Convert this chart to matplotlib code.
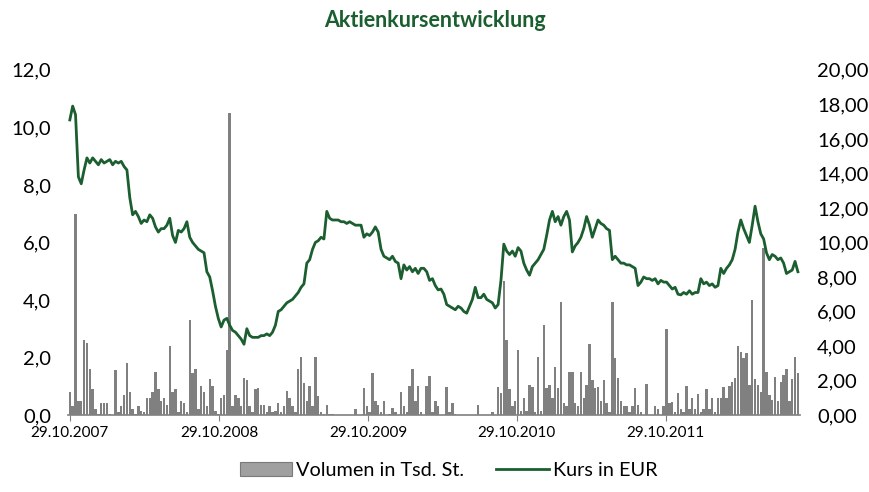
import matplotlib
matplotlib.use("Agg")
import matplotlib.pyplot as plt
import matplotlib.dates as mdates
from matplotlib.ticker import FuncFormatter, MultipleLocator
from matplotlib.patches import Patch
from matplotlib.lines import Line2D
import pandas as pd

# Wochenwerte ab 29.10.2007
start = "2007-10-29"

kurs = [
    17.1, 17.9, 17.4, 13.8, 13.4, 14.2, 14.9, 14.6, 14.9, 14.7,
    14.5, 14.8, 14.6, 14.7, 14.8, 14.5, 14.7, 14.6, 14.7, 14.4,
    14.2, 12.6, 11.6, 11.8, 11.5, 11.1, 11.3, 11.2, 11.6, 11.4,
    10.9, 10.6, 10.8, 10.8, 11.0, 11.4, 10.4, 10.0, 10.7, 10.6,
    10.8, 11.2, 10.3, 10.0, 9.8, 9.6, 9.5, 9.4, 8.3, 8.0,
    7.2, 6.3, 5.6, 5.1, 5.5, 5.6, 5.2, 4.9, 4.8, 4.6,
    4.4, 4.1, 5.0, 4.6, 4.5, 4.5, 4.5, 4.6, 4.6, 4.7,
    4.6, 4.8, 5.2, 6.0, 6.1, 6.3, 6.5, 6.6, 6.7, 6.9,
    7.1, 7.4, 7.6, 8.8, 9.0, 9.6, 10.0, 10.1, 10.3, 10.2,
    11.8, 11.4, 11.3, 11.3, 11.3, 11.2, 11.2, 11.1, 11.2, 11.1,
    11.0, 11.0, 11.0, 10.3, 10.5, 10.4, 10.6, 10.9, 10.6, 9.6,
    9.2, 9.1, 9.0, 9.2, 8.9, 8.8, 7.9, 8.7, 8.4, 8.6,
    8.3, 8.5, 8.2, 8.5, 8.5, 8.3, 7.8, 7.9, 7.5, 7.25,
    7.3, 7.0, 6.4, 6.3, 6.2, 6.1, 6.3, 6.2, 6.0, 5.9,
    6.3, 6.7, 7.4, 6.8, 6.8, 7.0, 6.7, 6.6, 6.5, 6.2,
    6.4, 7.8, 9.9, 9.5, 9.3, 9.5, 9.2, 9.7, 9.5, 8.8,
    8.4, 8.1, 8.6, 8.8, 9.0, 9.3, 9.6, 10.4, 11.3, 11.8,
    11.2, 11.5, 11.0, 11.5, 11.8, 11.3, 9.45, 9.8, 10.0, 10.3,
    10.8, 11.5, 11.0, 10.3, 10.8, 11.3, 11.1, 11.0, 10.8, 10.7,
    9.0, 9.2, 9.0, 8.8, 8.8, 8.7, 8.7, 8.6, 8.5, 7.5,
    7.7, 8.0, 7.9, 7.9, 7.8, 7.9, 7.6, 7.8, 7.7, 7.7,
    7.5, 7.3, 7.4, 7.0, 6.96, 7.1, 7.0, 7.2, 7.0, 7.1,
    7.1, 7.9, 7.6, 7.7, 7.5, 7.6, 7.4, 7.5, 8.5, 8.2,
    8.5, 8.7, 9.0, 9.6, 10.6, 11.3, 10.8, 10.4, 10.0, 11.0,
    12.1, 11.2, 10.5, 10.2, 9.4, 9.0, 9.3, 9.2, 9.0, 9.1,
    8.8, 8.2, 8.3, 8.4, 8.9, 8.3,
]

volumen = [
    0.8, 0.3, 7.0, 0.5, 0.5, 2.6, 2.5, 1.6, 0.9, 0.2,
    0.05, 0.4, 0.4, 0.4, 0.05, 0.0, 1.56, 0.1, 0.3, 0.7,
    1.8, 0.8, 0.2, 0.05, 0.3, 0.15, 0.1, 0.6, 0.6, 0.8,
    1.5, 0.9, 0.5, 0.6, 0.35, 2.4, 0.8, 0.9, 0.1, 0.5,
    0.4, 0.1, 3.3, 1.45, 1.6, 0.2, 1.0, 0.8, 0.3, 1.24,
    1.0, 0.15, 0.05, 0.6, 0.7, 2.26, 10.5, 0.3, 0.7, 0.6,
    0.3, 1.27, 1.2, 0.3, 0.1, 0.9, 0.95, 0.35, 0.35, 0.1,
    0.3, 0.1, 0.15, 0.4, 0.1, 0.3, 0.85, 0.6, 0.3, 0.1,
    1.6, 2.0, 1.1, 0.5, 1.0, 0.3, 2.0, 0.65, 0.1, 0.05,
    0.35, 0.05, 0.05, 0.0, 0.0, 0.0, 0.0, 0.0, 0.0, 0.0,
    0.2, 0.0, 0.0, 0.95, 0.3, 0.1, 1.46, 0.5, 0.35, 0.1,
    0.5, 0.0, 0.05, 0.25, 0.1, 0.0, 0.8, 0.3, 0.1, 1.0,
    1.6, 0.5, 1.0, 0.1, 0.0, 1.0, 1.36, 0.1, 0.5, 0.3,
    0.0, 0.0, 0.98, 0.1, 0.43, 0.05, 0.0, 0.0, 0.0, 0.0,
    0.0, 0.0, 0.0, 0.35, 0.0, 0.0, 0.0, 0.0, 0.1, 0.0,
    0.98, 0.75, 4.67, 2.6, 0.9, 0.3, 0.5, 2.26, 0.15, 0.58,
    0.15, 1.04, 0.98, 0.1, 2.0, 0.15, 3.13, 0.93, 1.04, 0.6,
    1.68, 0.93, 3.92, 0.4, 0.3, 1.5, 1.5, 0.4, 0.3, 1.5,
    0.6, 1.04, 2.47, 1.2, 0.93, 0.98, 0.5, 1.2, 0.4, 0.1,
    3.93, 1.97, 1.27, 0.5, 0.3, 0.3, 0.1, 0.3, 0.93, 0.35,
    0.1, 0.0, 1.07, 0.0, 0.0, 0.3, 0.2, 0.0, 0.3, 3.0,
    0.4, 0.45, 0.1, 0.75, 0.2, 0.1, 1.0, 0.2, 0.6, 0.2,
    0.72, 0.1, 0.2, 0.9, 0.2, 0.6, 0.1, 0.6, 0.6, 0.98,
    0.58, 1.0, 1.16, 1.27, 2.4, 2.2, 1.97, 2.15, 1.04, 4.0,
    1.24, 1.04, 0.8, 5.8, 1.5, 0.7, 0.52, 1.33, 0.5, 1.16,
    1.39, 1.6, 0.5, 1.24, 2.0, 1.45,
]

tick_daten = ["2007-10-29", "2008-10-29", "2009-10-29", "2010-10-29", "2011-10-29"]

gruen = "#1b5e2f"
grau = "#808080"

daten = pd.date_range(start, periods=len(kurs), freq="7D")

plt.rcParams["font.family"] = ["Lato", "DejaVu Sans"]

fig = plt.figure(figsize=(8.69, 4.92), dpi=100)
ax = fig.add_axes([0.078, 0.1565, 0.843, 0.7015])
ax2 = ax.twinx()

ax.bar(daten, volumen, width=6, color=grau, linewidth=0, zorder=2)
ax2.plot(daten, kurs, color=gruen, linewidth=2.0, zorder=3)

ax.set_ylim(0, 12)
ax2.set_ylim(0, 20)
ax.yaxis.set_major_locator(MultipleLocator(2))
ax2.yaxis.set_major_locator(MultipleLocator(2))
ax.yaxis.set_major_formatter(FuncFormatter(lambda v, p: f"{v:.1f}".replace(".", ",")))
ax2.yaxis.set_major_formatter(FuncFormatter(lambda v, p: f"{v:.2f}".replace(".", ",")))

x0 = pd.Timestamp("2007-10-24")
ax.set_xlim(x0, x0 + pd.Timedelta(days=1796))
ax.set_xticks(pd.to_datetime(tick_daten))
ax.xaxis.set_major_formatter(mdates.DateFormatter("%d.%m.%Y"))

for a in (ax, ax2):
    for s in ("top", "left", "right", "bottom"):
        a.spines[s].set_visible(False)
ax.spines["bottom"].set_visible(True)
ax.spines["bottom"].set_color(grau)
ax.spines["bottom"].set_linewidth(1.2)

ax.tick_params(axis="x", length=4, color=grau, labelsize=11, pad=4)
ax.tick_params(axis="y", length=0, labelsize=14.5, pad=12)
ax2.tick_params(axis="y", length=0, labelsize=14.5, pad=12)

fig.text(0.5, 0.958, "Aktienkursentwicklung", ha="center", va="center",
         fontsize=15.5, fontweight="bold", color=gruen)

handles = [Patch(facecolor="#a0a0a0", edgecolor="#7a7a7a", linewidth=0.8),
           Line2D([0], [0], color=gruen, linewidth=2.0)]
fig.legend(handles, ["Volumen in Tsd. St.", "Kurs in EUR"], loc="lower center",
           bbox_to_anchor=(0.516, -0.01), ncol=2, frameon=False, fontsize=14.3,
           handlelength=2.65, columnspacing=1.6, handletextpad=0.2)

fig.savefig("out.png", dpi=100)
